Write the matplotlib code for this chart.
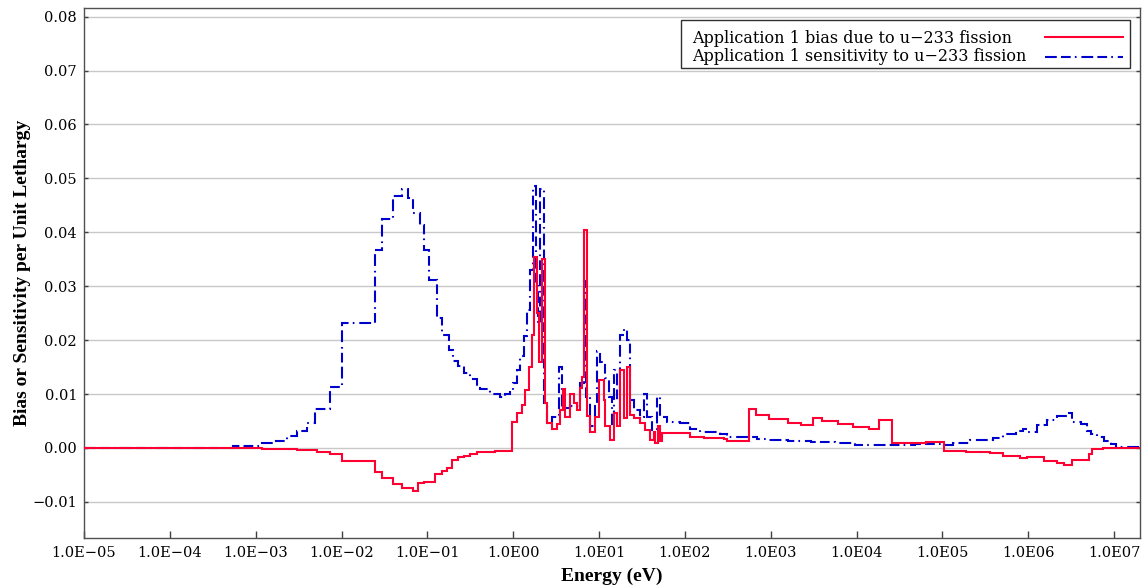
import numpy as np
import matplotlib
matplotlib.use("Agg")
import matplotlib.pyplot as plt
from matplotlib.ticker import FixedLocator, NullLocator
from matplotlib.patches import Rectangle
from matplotlib.lines import Line2D

# ---- data: group edges given as log10(E / eV), values per unit lethargy ----
bias_log_edges = [-5, -2.929, -2.521, -2.288, -2.133, -2.0, -1.608, -1.530, -1.395, -1.297,
                  -1.162, -1.104, -1.045, -0.909, -0.831, -0.773, -0.714, -0.638, -0.579, -0.501,
                  -0.423, -0.210, -0.015, 0.043, 0.101, 0.140, 0.178, 0.218, 0.237, 0.276,
                  0.295, 0.334, 0.373, 0.393, 0.451, 0.509, 0.548, 0.583, 0.606, 0.664,
                  0.703, 0.742, 0.781, 0.804, 0.828, 0.859, 0.897, 0.956, 0.994, 1.052,
                  1.072, 1.131, 1.169, 1.209, 1.247, 1.286, 1.325, 1.355, 1.402, 1.480,
                  1.538, 1.597, 1.635, 1.655, 1.682, 1.705, 1.733, 2.063, 2.218, 2.451,
                  2.494, 2.748, 2.826, 2.984, 3.199, 3.355, 3.493, 3.591, 3.787, 3.963,
                  4.140, 4.258, 4.414, 4.807, 5.022, 5.276, 5.551, 5.707, 5.903, 5.983,
                  6.178, 6.335, 6.414, 6.512, 6.707, 6.747, 6.865, 7.301]
bias_values = [0, -0.0002, -0.0004, -0.0008, -0.0012, -0.0025, -0.0045, -0.0056, -0.0067, -0.0074,
               -0.0079, -0.0065, -0.0064, -0.0048, -0.0043, -0.0038, -0.0022, -0.0017, -0.0014, -0.0012,
               -0.0008, -0.0005, 0.0049, 0.0064, 0.0080, 0.0108, 0.0150, 0.0210, 0.0355, 0.0250,
               0.0160, 0.0350, 0.0083, 0.0046, 0.0036, 0.0045, 0.0070, 0.0110, 0.0058, 0.0100,
               0.0083, 0.0071, 0.0111, 0.0132, 0.0404, 0.0060, 0.0030, 0.0058, 0.0126, 0.0089,
               0.0040, 0.0015, 0.0065, 0.0040, 0.0145, 0.0055, 0.0150, 0.0061, 0.0055, 0.0046,
               0.0033, 0.0015, 0.0030, 0.0010, 0.0040, 0.0012, 0.0027, 0.0021, 0.0018, 0.0016,
               0.0012, 0.0073, 0.0062, 0.0053, 0.0047, 0.0042, 0.0056, 0.0050, 0.0045, 0.0039,
               0.0036, 0.0051, 0.0009, 0.0011, -0.0005, -0.0008, -0.0010, -0.0014, -0.0019, -0.0016,
               -0.0024, -0.0027, -0.0031, -0.0022, -0.0011, -0.0002, 0.0]

sens_log_edges = [-5, -3.260, -2.949, -2.794, -2.638, -2.521, -2.404, -2.308, -2.133, -2.0,
                  -1.608, -1.530, -1.395, -1.297, -1.220, -1.162, -1.084, -1.045, -0.987, -0.889,
                  -0.831, -0.754, -0.696, -0.638, -0.579, -0.501, -0.423, -0.385, -0.268, -0.152,
                  -0.093, -0.035, 0.003, 0.043, 0.082, 0.120, 0.160, 0.198, 0.230, 0.268,
                  0.291, 0.315, 0.361, 0.393, 0.451, 0.528, 0.568, 0.664, 0.781, 0.819,
                  0.851, 0.897, 0.956, 0.976, 1.014, 1.072, 1.111, 1.150, 1.169, 1.209,
                  1.247, 1.286, 1.325, 1.364, 1.402, 1.480, 1.519, 1.558, 1.617, 1.675,
                  1.713, 1.791, 1.946, 2.063, 2.179, 2.413, 2.494, 2.727, 2.844, 2.960,
                  3.199, 3.473, 3.747, 3.983, 4.685, 5.0, 5.117, 5.315, 5.590, 5.707,
                  5.862, 5.943, 6.002, 6.100, 6.218, 6.335, 6.452, 6.512, 6.608, 6.688,
                  6.727, 6.805, 6.883, 6.963, 7.021, 7.301]
sens_values = [0, 0.0003, 0.0009, 0.0013, 0.0022, 0.0031, 0.0046, 0.0072, 0.0113, 0.0231,
               0.0368, 0.0424, 0.0467, 0.0481, 0.0464, 0.0436, 0.0414, 0.0368, 0.0312, 0.0241,
               0.0210, 0.0182, 0.0161, 0.0152, 0.0139, 0.0127, 0.0114, 0.0110, 0.0100, 0.0095,
               0.0100, 0.0108, 0.0120, 0.0145, 0.0170, 0.0207, 0.0256, 0.0330, 0.0485, 0.0300,
               0.0230, 0.0480, 0.0083, 0.0046, 0.0058, 0.0150, 0.0074, 0.0077, 0.0120, 0.0310,
               0.0095, 0.0040, 0.0077, 0.0180, 0.0160, 0.0130, 0.0095, 0.0045, 0.0145, 0.0089,
               0.0210, 0.0220, 0.0200, 0.0089, 0.0070, 0.0058, 0.0100, 0.0058, 0.0033, 0.0095,
               0.0058, 0.0049, 0.0046, 0.0036, 0.0029, 0.0026, 0.0021, 0.0020, 0.0017, 0.0014,
               0.0012, 0.0011, 0.0009, 0.0006, 0.0007, 0.0006, 0.0010, 0.0014, 0.0019, 0.0025,
               0.0032, 0.0036, 0.0029, 0.0042, 0.0051, 0.0059, 0.0065, 0.0048, 0.0045, 0.0032,
               0.0026, 0.0021, 0.0012, 0.0007, 0.0001]

x_tick_exponents = [-5, -4, -3, -2, -1, 0, 1, 2, 3, 4, 5, 6, 7]
x_tick_labels = ["1.0E−05", "1.0E−04", "1.0E−03", "1.0E−02", "1.0E−01", "1.0E00", "1.0E01",
                 "1.0E02", "1.0E03", "1.0E04", "1.0E05", "1.0E06", "1.0E07"]
y_ticks = [-0.01, 0.0, 0.01, 0.02, 0.03, 0.04, 0.05, 0.06, 0.07, 0.08]
y_tick_labels = ["−0.01", "0.00", "0.01", "0.02", "0.03", "0.04", "0.05", "0.06", "0.07", "0.08"]

bias_label = "Application 1 bias due to u−233 fission"
sens_label = "Application 1 sensitivity to u−233 fission"

# ---- figure ----
plt.rcParams['lines.scale_dashes'] = False
fig = plt.figure(figsize=(11.46, 5.86), dpi=100)
ax = fig.add_axes([84/1146, 48/586, (1140-84)/1146, (538-8)/586])

red = "#ff0033"
blue = "#0000cc"
sens_dash = (0, (8.5, 3, 7, 3, 1.2, 3.5))

sens_edges = 10.0 ** np.array(sens_log_edges)
bias_edges = 10.0 ** np.array(bias_log_edges)

ax.stairs(sens_values, sens_edges, baseline=None, color=blue, linewidth=1.5,
          linestyle=sens_dash, zorder=3)
ax.stairs(bias_values, bias_edges, baseline=None, color=red, linewidth=1.5, zorder=4)

ax.set_xscale('log')
ax.set_xlim(1e-5, 2e7)
ax.set_ylim(-0.0167, 0.0816)

ax.xaxis.set_major_locator(FixedLocator([10.0 ** e for e in x_tick_exponents]))
ax.xaxis.set_minor_locator(NullLocator())
ax.set_xticklabels(x_tick_labels)
ax.set_yticks(y_ticks)
ax.set_yticklabels(y_tick_labels)

for lab in ax.get_xticklabels() + ax.get_yticklabels():
    lab.set_fontfamily("DejaVu Serif")
    lab.set_fontsize(10.5)

ax.tick_params(axis='x', direction='in', length=5, width=1, color="#404040", pad=6, top=False)
ax.tick_params(axis='y', direction='in', length=3, width=1, color="#404040", pad=5,
               left=True, right=True)

ax.grid(axis='y', color="#c8c8c8", linewidth=1)
ax.set_axisbelow(True)
for s in ax.spines.values():
    s.set_color("#505050")
    s.set_linewidth(1)

ax.set_xlabel("Energy (eV)", family="Liberation Serif", fontweight="bold", fontsize=14,
              labelpad=5)
ax.set_ylabel("Bias or Sensitivity per Unit Lethargy", family="Liberation Serif",
              fontweight="bold", fontsize=14, labelpad=1)

# ---- legend (text left-aligned, sample lines on the right) ----
T = ax.transAxes
ax.add_patch(Rectangle((0.5653, 0.8868), 0.9905 - 0.5653, 0.9774 - 0.8868, transform=T,
                       facecolor="white", edgecolor="#303030", linewidth=1, zorder=10))
leg_font = dict(family="DejaVu Serif", size=11.5)
ax.text(0.5758, 0.9420, bias_label, transform=T, ha="left", va="center", zorder=11, **leg_font)
ax.text(0.5758, 0.9094, sens_label, transform=T, ha="left", va="center", zorder=11, **leg_font)
ax.add_line(Line2D([0.9100, 0.9839], [0.9453, 0.9453], transform=T, color=red,
                   linewidth=1.5, zorder=11))
ax.add_line(Line2D([0.9100, 0.9839], [0.9075, 0.9075], transform=T, color=blue,
                   linewidth=1.5, linestyle=sens_dash, zorder=11))

fig.savefig("out.png", dpi=100)
